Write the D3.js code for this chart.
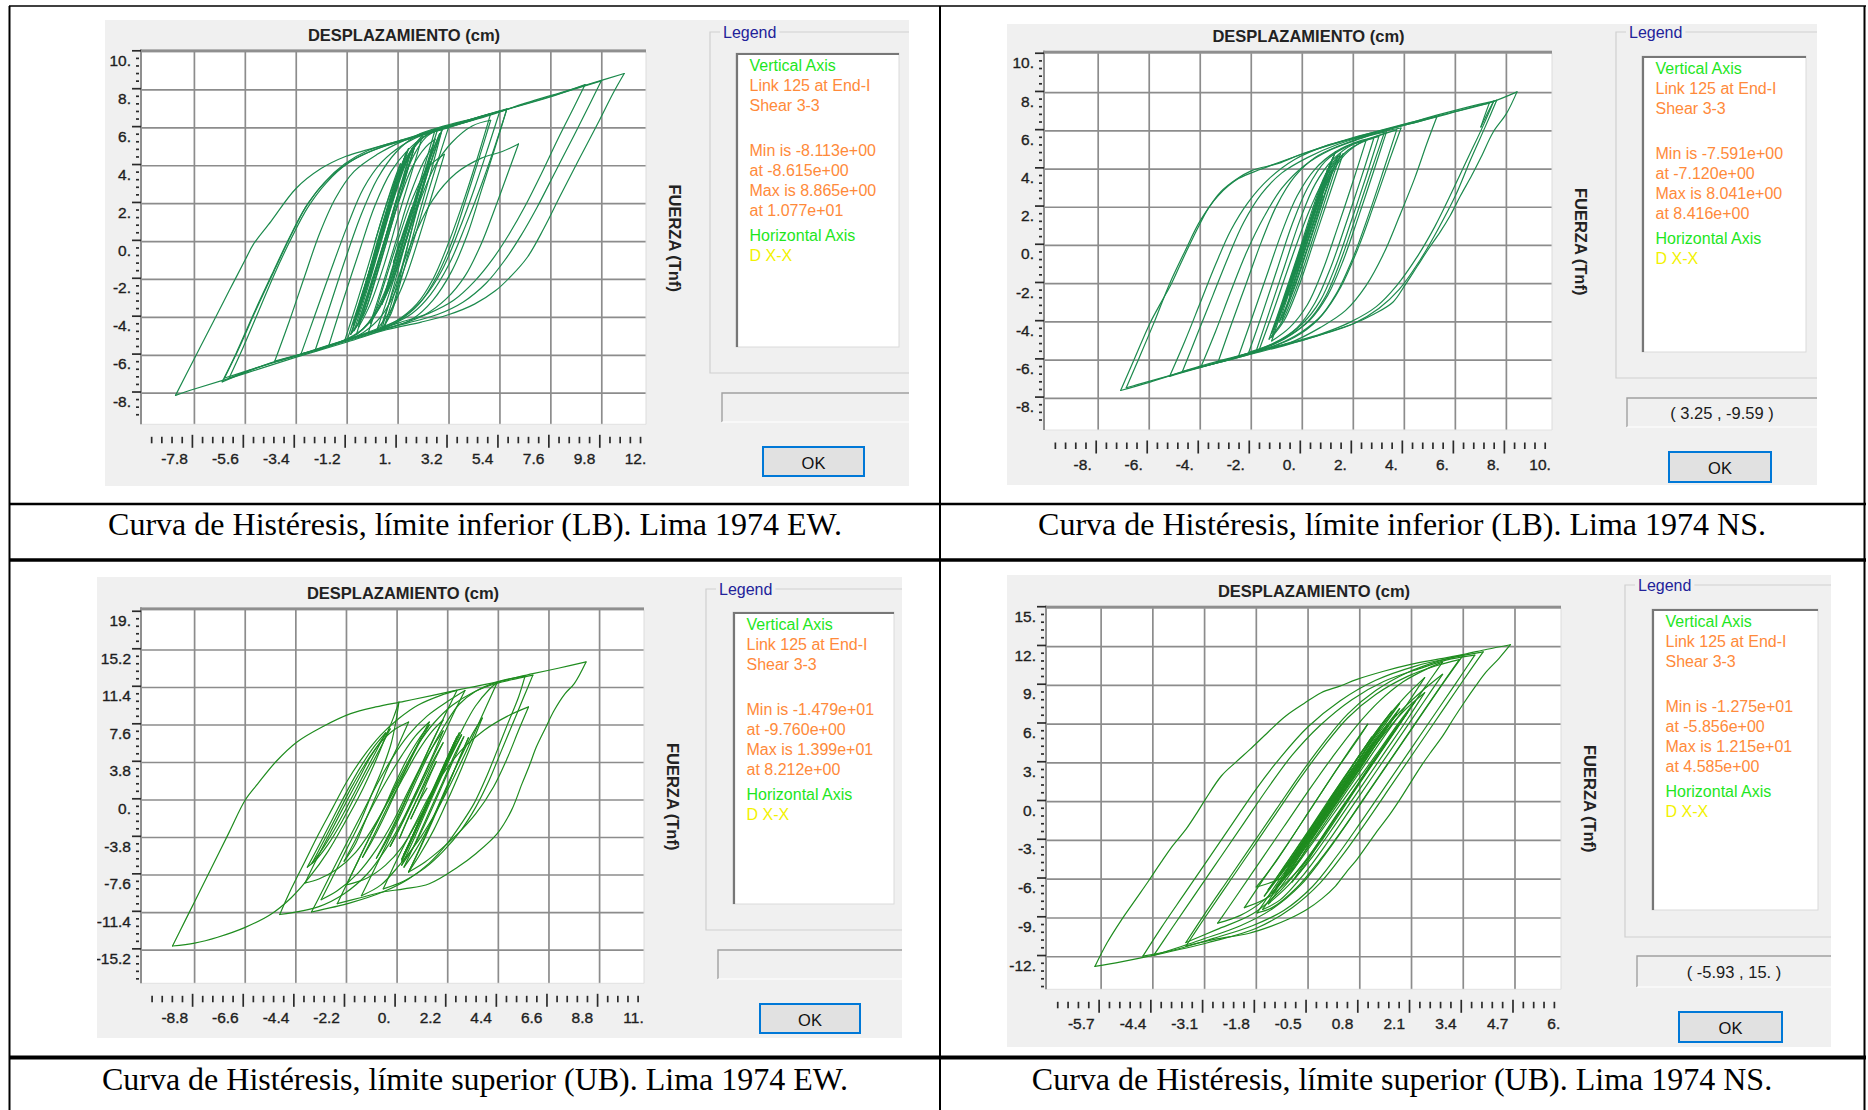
<!DOCTYPE html>
<html>
<head>
<meta charset="utf-8">
<script src="https://cdn.jsdelivr.net/npm/d3@7"></script>
<style>
  html, body { margin: 0; padding: 0; background: #ffffff; }
  svg { display: block; }
</style>
</head>
<body>
<svg id="fig" width="1868" height="1110"></svg>
<script>
// ---------------------------------------------------------------
// Hysteresis records: [displacement (cm), shear force (Tnf)]
// ---------------------------------------------------------------
const lbEwPath = [
[0,0],[0.45,1.8],[0.85,3.3],[1.1,4.1],
[0.65,2.3],[0.1,0.0],[-0.35,-2.0],[-0.65,-3.3],
[-0.1,-1.0],[0.5,1.5],[0.95,3.4],[1.3,4.5],
[0.8,2.4],[0.15,-0.3],[-0.45,-2.7],[-0.85,-4.0],
[-0.25,-1.6],[0.4,1.1],[1.0,3.5],[1.45,4.9],
[0.95,2.9],[0.25,0.1],[-0.4,-2.6],[-0.95,-4.4],
[-0.4,-2.2],[0.3,0.6],[0.9,3.0],[1.35,4.7],
[0.9,2.8],[0.3,0.4],[-0.3,-2.1],[-0.75,-3.9],
[-0.2,-1.7],[0.5,1.2],[1.2,3.9],[1.8,5.2],[2.5,5.8],[3.2,6.1],
[2.7,4.2],[2.1,1.8],[1.5,-0.6],[0.9,-2.6],[0.3,-3.9],[-0.5,-4.8],[-1.2,-5.2],
[-0.7,-3.3],[-0.1,-1.0],[0.5,1.3],[1.0,3.2],[1.5,4.6],[2.1,5.5],[2.6,5.9],
[2.1,3.8],[1.5,1.3],[0.9,-1.1],[0.3,-3.0],[-0.3,-4.3],[-0.8,-4.9],[-1.5,-5.3],[-2.6,-5.8],
[-2.0,-3.6],[-1.3,-1.0],[-0.6,1.4],[0.1,3.3],[0.9,4.7],[1.8,5.6],[3.0,6.1],[4.3,6.5],[5.7,7.0],
[5.2,5.0],[4.6,2.7],[4.0,0.4],[3.3,-1.6],[2.5,-3.1],[1.6,-4.1],[0.5,-4.6],[-0.8,-5.1],[-2.2,-5.6],[-3.4,-6.0],[-4.33,-6.31],
[-3.7,-4.2],[-3.0,-1.7],[-2.4,0.4],[-1.7,2.3],[-0.9,3.7],[0.1,4.6],[1.2,5.3],[2.5,5.9],[3.8,6.3],[5.0,6.75],
[4.5,4.7],[3.9,2.4],[3.2,0.0],[2.5,-2.0],[1.8,-3.3],[0.9,-4.2],[-0.2,-4.8],[-1.2,-5.2],[-2.0,-5.5],
[-1.4,-3.2],[-0.7,-0.6],[0.0,1.9],[0.7,3.7],[1.4,4.8],[2.2,5.6],[2.9,5.9],
[2.3,3.7],[1.6,1.0],[0.9,-1.6],[0.2,-3.5],[-0.5,-4.6],[-1.5,-5.3],[-3.0,-5.9],[-4.5,-6.4],[-5.6,-6.9],[-6.6,-7.4],
[-6.0,-5.9],[-5.2,-3.7],[-4.4,-1.6],[-3.7,0.2],[-3.0,1.8],[-2.2,3.1],[-1.3,4.1],[-0.3,4.8],[1.0,5.3],[2.5,5.85],[4.0,6.4],[5.4,6.9],
[4.9,5.0],[4.3,2.8],[3.6,0.5],[2.9,-1.5],[2.1,-3.0],[1.2,-4.0],[0.1,-4.6],[-1.3,-5.2],[-2.8,-5.8],[-4.2,-6.3],[-5.6,-6.85],[-6.5,-7.2],
[-5.9,-5.7],[-5.1,-3.5],[-4.3,-1.4],[-3.6,0.4],[-2.9,2.0],[-2.1,3.2],[-1.1,4.2],[0.1,4.9],[1.6,5.45],[3.2,6.05],[4.8,6.6],[6.5,7.3],[8.0,7.85],[9.5,8.4],[10.77,8.865],
[10.3,7.85],[9.7,6.4],[8.8,4.3],[8.0,2.4],[7.3,0.7],[6.6,-0.8],[5.9,-1.8],[5.2,-2.6],[4.3,-3.3],[3.2,-3.85],[2.0,-4.25],[0.5,-4.65],[-1.2,-5.3],[-3.4,-6.1],[-5.6,-6.95],[-7.8,-7.78],[-8.615,-8.113],
[-7.8,-6.17],[-7.0,-4.27],[-6.3,-2.6],[-5.6,-0.95],[-5.26,-0.16],[-4.49,1.07],[-3.41,2.8],[-2.33,3.85],[-1.25,4.5],[-0.3,4.85],[1.0,5.3],[3.15,6.0],[5.35,6.85],[7.57,7.65],[9.78,8.48],
[9.3,7.3],[8.6,5.6],[7.8,3.7],[7.0,1.8],[6.3,0.3],[5.6,-1.0],[4.8,-2.2],[3.8,-3.2],[2.7,-3.85],[1.4,-4.3],[0.0,-4.75],[-1.8,-5.4],[-3.6,-6.1],[-5.2,-6.7],[-6.3,-7.2],
[-5.7,-5.6],[-5.0,-3.6],[-4.3,-1.6],[-3.6,0.2],[-2.9,1.8],[-2.1,3.1],[-1.2,4.1],[-0.1,4.8],[1.5,5.45],[3.5,6.15],[5.5,6.9],[7.5,7.6],[9.08,8.28],
[8.6,7.1],[7.9,5.4],[7.2,3.6],[6.5,1.9],[5.8,0.4],[5.1,-0.9],[4.3,-2.1],[3.4,-3.1],[2.3,-3.8],[1.0,-4.3],[-0.5,-4.9],[-2.0,-5.5],[-3.2,-5.95],
[-2.6,-3.9],[-1.9,-1.5],[-1.2,0.8],[-0.5,2.8],[0.3,4.2],[1.2,5.1],[2.4,5.8],[3.6,6.25],[4.6,6.6],[5.69,6.96],
[5.2,5.1],[4.6,3.0],[3.9,0.8],[3.2,-1.2],[2.4,-2.8],[1.6,-3.8],[0.7,-4.4],[-0.3,-4.85],
[0.2,-3.0],[0.9,-0.3],[1.6,2.2],[2.3,3.9],[3.0,4.6],
[2.5,2.6],[1.9,0.2],[1.3,-2.0],[0.7,-3.6],[0.1,-4.6],
[0.6,-2.8],[1.2,-0.5],[1.9,2.0],[2.6,4.0],[3.3,5.2],[4.2,6.1],[5.0,6.4],
[4.5,4.4],[3.9,2.1],[3.3,-0.1],[2.6,-2.0],[1.9,-3.3],[1.0,-4.2],[0.2,-4.7],
[0.8,-2.6],[1.6,0.0],[2.5,2.2],[3.5,3.6],[4.6,4.4],[5.5,4.75],[6.2,5.15],
[5.8,3.8],[5.2,1.8],[4.6,-0.1],[3.9,-1.8],[3.1,-3.0],[2.1,-3.9],[1.0,-4.4],[-0.2,-4.8],[-1.3,-5.2],
[-0.8,-3.3],[-0.2,-0.9],[0.4,1.6],[1.0,3.6],[1.6,4.9],[2.07,5.64],
[1.6,3.7],[1.0,1.3],[0.4,-1.2],[-0.2,-3.3],[-0.7,-4.5],
[-0.2,-2.5],[0.4,0.0],[1.0,2.5],[1.5,4.2],[1.76,5.2],
[1.3,3.3],[0.7,0.8],[0.1,-1.7],[-0.4,-3.6],[-0.9,-4.7],
[-0.4,-2.8],[0.2,-0.3],[0.8,2.2],[1.3,4.0],[1.7,5.0],
[1.2,2.9],[0.6,0.4],[0.0,-2.0],[-0.5,-3.9],[-1.0,-4.8],
[-0.5,-3.0],[0.1,-0.6],[0.7,1.9],[1.2,3.8],[1.6,4.9],
[1.1,2.8],[0.5,0.2],[-0.1,-2.2],[-0.6,-4.0],[-1.05,-4.9],
[-0.6,-3.2],[0.0,-0.8],[0.6,1.7],[1.1,3.5],[1.5,4.6],
[1.0,2.5],[0.4,0.0],[-0.2,-2.4],[-0.7,-4.2],
[-0.2,-2.3],[0.5,0.4],[1.1,2.8],[1.7,4.6],[2.2,5.5],[2.7,5.9],
[2.2,3.9],[1.6,1.5],[1.0,-0.9],[0.4,-2.9],[-0.2,-4.2],[-0.8,-4.9],
[-0.3,-2.9],[0.3,-0.5],[1.0,2.0],[1.6,3.9],[2.2,5.0],[2.6,5.4],
[2.2,3.6],[1.7,1.2],[1.2,-1.3],[0.8,-3.3],[0.4,-4.5],
[0.9,-2.5],[1.5,0.2],[2.1,2.9],[2.6,4.9],[2.9,5.9],
[2.4,3.6],[1.8,1.0],[1.2,-1.7],[0.7,-3.8],[0.3,-4.6],
[0.8,-2.4],[1.4,0.3],[2.0,3.0],[2.5,4.8],[2.8,5.7],
[2.1,3.4],[1.5,1.1],[0.9,-1.3],[0.3,-3.2],[-0.2,-4.3],
[0.3,-2.4],[0.9,0.0],[1.5,2.4],[2.1,4.2],[2.5,5.0],
[2.0,3.0],[1.4,0.7],[0.8,-1.7],[0.3,-3.3],
[0.8,-1.3],[1.4,1.0],[2.0,3.1],[2.4,4.2],
[1.9,2.3],[1.3,0.0],[0.7,-2.2],[0.3,-3.3],
[0.7,-1.6],[1.2,0.4],[1.6,1.8],[1.2,0.3],[0.8,-1.1],[1.05,0.0]
];

const lbNsPath = [
[0,0],[0.4,1.6],[0.8,3.2],[1.0,4.0],
[0.5,2.0],[-0.1,-0.4],[-0.6,-2.4],[-0.9,-3.6],
[-0.4,-1.6],[0.2,0.8],[0.7,2.9],[1.1,4.3],
[0.6,2.3],[0.0,-0.2],[-0.6,-2.6],[-1.0,-4.0],
[-0.5,-2.0],[0.1,0.5],[0.7,2.8],[1.2,4.6],
[0.7,2.6],[0.0,-0.3],[-0.6,-2.7],[-1.1,-4.3],
[-0.5,-1.9],[0.2,0.9],[0.8,3.3],[1.3,4.9],
[0.7,2.6],[0.0,-0.4],[-0.7,-3.0],[-1.2,-4.6],
[-0.6,-2.4],[0.1,0.3],[0.8,2.8],[1.5,4.5],[2.3,5.4],[3.2,5.85],
[2.7,3.9],[2.1,1.5],[1.5,-0.8],[0.9,-2.7],[0.2,-4.0],[-0.7,-4.9],[-1.7,-5.5],
[-1.1,-3.3],[-0.4,-0.6],[0.3,1.9],[1.0,3.8],[1.8,5.0],[2.7,5.6],[3.7,6.05],
[3.2,4.0],[2.6,1.6],[2.0,-0.6],[1.3,-2.6],[0.6,-3.9],[-0.3,-4.8],[-1.4,-5.4],[-2.6,-5.9],[-3.97,-6.35],
[-3.4,-4.5],[-2.8,-2.4],[-2.2,-0.4],[-1.5,1.5],[-0.8,3.0],[0.1,4.2],[1.1,5.0],[2.3,5.6],[3.6,6.15],[4.6,6.5],[5.28,6.75],
[4.9,5.4],[4.4,3.5],[3.8,1.5],[3.2,-0.4],[2.5,-2.1],[1.7,-3.4],[0.7,-4.3],[-0.5,-5.1],[-1.9,-5.6],[-3.2,-6.1],[-4.3,-6.5],[-5.2,-6.85],
[-4.6,-5.0],[-4.0,-3.0],[-3.4,-1.0],[-2.8,0.8],[-2.1,2.3],[-1.3,3.5],[-0.3,4.5],[0.9,5.2],[2.3,5.7],[3.9,6.3],[5.5,6.9],[6.8,7.35],[7.62,7.6],
[7.2,6.3],[6.6,4.5],[6.0,2.6],[5.3,0.8],[4.6,-0.8],[3.8,-2.3],[3.0,-3.3],[2.0,-4.1],[0.8,-4.65],[-0.6,-5.2],[-2.2,-5.75],[-3.8,-6.3],[-5.3,-6.85],[-6.5,-7.3],[-6.9,-7.45],
[-6.4,-5.9],[-5.8,-4.0],[-5.2,-2.0],[-4.6,-0.3],[-4.0,1.3],[-3.3,2.6],[-2.5,3.5],[-1.6,4.0],[-0.6,4.5],[0.6,5.05],[2.2,5.7],[4.0,6.35],[5.8,6.95],[7.3,7.45],[8.416,8.041],
[8.0,6.9],[7.48,5.93],[7.0,4.6],[6.64,3.66],[6.2,2.6],[5.8,1.57],[5.4,0.7],[4.95,-0.17],[4.5,-1.1],[4.02,-2.09],[3.55,-2.97],[2.8,-3.6],[2.0,-4.1],[1.0,-4.55],[0.0,-4.97],[-1.96,-5.6],[-3.97,-6.3],[-5.97,-7.15],[-7.12,-7.591],
[-6.6,-6.0],[-5.97,-4.07],[-5.5,-2.9],[-5.13,-2.0],[-4.75,-0.9],[-4.43,0.0],[-4.1,0.9],[-3.7,1.9],[-3.2,2.8],[-2.6,3.45],[-1.96,3.93],[-0.93,4.3],[0.0,4.8],[2.0,5.65],[4.0,6.3],[5.6,6.85],[6.8,7.3],[7.33,7.45],
[7.1,6.6],[7.0,6.2],[7.25,6.9],[7.5,7.55],
[7.1,6.3],[6.5,4.6],[5.9,2.9],[5.2,1.0],[4.5,-0.6],[3.7,-2.1],[2.9,-3.2],[1.9,-4.0],[0.8,-4.6],[-0.5,-5.1],[-2.0,-5.6],[-3.5,-6.2],[-4.7,-6.6],
[-4.1,-4.6],[-3.5,-2.6],[-2.9,-0.6],[-2.3,1.2],[-1.6,2.7],[-0.8,3.8],[0.2,4.6],[1.4,5.3],[2.8,5.85],[3.87,6.15],
[3.4,4.4],[2.8,2.1],[2.2,-0.1],[1.5,-2.2],[0.8,-3.6],[0.0,-4.5],[-1.0,-5.2],[-2.2,-5.7],[-3.3,-6.1],
[-2.8,-4.2],[-2.2,-2.0],[-1.6,0.2],[-1.0,2.1],[-0.3,3.6],[0.5,4.6],[1.5,5.25],[2.6,5.75],[3.3,5.95],
[2.8,3.9],[2.2,1.5],[1.6,-0.8],[1.0,-2.6],[0.3,-3.9],[-0.5,-4.7],[-1.6,-5.4],[-2.5,-5.8],
[-2.0,-3.9],[-1.4,-1.6],[-0.8,0.7],[-0.2,2.6],[0.5,4.0],[1.3,4.9],[2.2,5.45],[3.0,5.7],
[2.5,3.6],[1.9,1.2],[1.3,-1.1],[0.7,-2.9],[0.0,-4.1],[-0.9,-5.0],[-1.8,-5.5],
[-1.3,-3.5],[-0.7,-1.1],[-0.1,1.3],[0.5,3.2],[1.2,4.5],[2.0,5.3],[2.8,5.6],
[2.3,3.5],[1.7,1.1],[1.1,-1.2],[0.5,-3.0],[-0.2,-4.3],[-1.1,-5.1],[-2.1,-5.6],
[-1.6,-3.7],[-1.0,-1.3],[-0.4,1.1],[0.2,3.0],[0.9,4.4],[1.7,5.15],[2.5,5.5],
[2.0,3.4],[1.4,1.0],[0.8,-1.3],[0.2,-3.1],[-0.5,-4.3],[-1.2,-5.0],
[-0.7,-3.0],[-0.1,-0.6],[0.5,1.8],[1.0,3.6],[1.6,4.8],
[1.1,2.8],[0.5,0.4],[-0.1,-2.0],[-0.7,-3.9],[-1.2,-4.8],
[-0.7,-2.9],[-0.1,-0.5],[0.5,2.0],[1.0,3.8],[1.5,4.8],
[1.0,2.8],[0.4,0.3],[-0.2,-2.1],[-0.8,-4.0],[-1.3,-4.9],
[-0.8,-3.0],[-0.2,-0.6],[0.4,1.9],[0.9,3.7],[1.4,4.7],
[0.9,2.7],[0.3,0.2],[-0.3,-2.2],[-0.8,-3.9],
[-0.3,-1.9],[0.3,0.6],[0.8,2.7],[1.2,4.0],
[0.7,2.0],[0.1,-0.5],[-0.5,-2.8],[-0.9,-4.0],
[-0.4,-2.0],[0.2,0.5],[0.7,2.5],[1.1,3.9],
[0.6,1.9],[0.0,-0.6],[-0.5,-2.6],
[0.0,-0.6],[0.5,1.4],[0.8,2.6],
[0.3,0.6],[-0.2,-1.4],[0.1,-0.2]
];

const ubEwPath = [
[1.4,0],[1.8,2.2],[2.2,4.3],[2.5,5.9],
[2.1,3.7],[1.5,0.6],[0.9,-2.5],[0.5,-4.6],
[0.9,-2.4],[1.5,0.8],[2.1,3.9],[2.6,6.4],
[2.1,3.8],[1.4,0.2],[0.8,-3.0],[0.3,-5.5],
[0.8,-3.0],[1.5,0.6],[2.1,3.8],[2.7,6.8],
[2.2,4.2],[1.5,0.5],[0.8,-3.1],[0.2,-6.0],
[0.7,-3.5],[1.4,0.1],[2.0,3.2],[2.5,5.6],
[2.0,3.0],[1.3,-0.6],[0.7,-3.7],[0.2,-6.2],
[0.8,-3.2],[1.5,0.4],[2.2,4.0],[2.8,7.0],[3.4,9.5],[4.0,11.2],[4.35,11.9],
[3.9,9.6],[3.4,7.0],[2.9,4.4],[2.3,1.5],[1.6,-1.6],[0.9,-4.2],[0.1,-6.6],[-0.7,-8.6],[-1.55,-9.7],
[-1.0,-7.1],[-0.4,-4.2],[0.3,-0.8],[0.9,2.3],[1.5,5.2],[2.1,7.7],[2.7,9.7],[3.4,11.0],[4.4,12.0],[5.56,12.55],
[5.28,10.44],[4.81,7.74],[4.35,5.03],[3.88,2.33],[3.34,-0.37],[2.79,-2.4],[2.17,-4.43],[1.4,-6.4],[0.5,-8.0],[-0.6,-9.3],[-2.0,-10.4],[-3.72,-11.35],
[-3.2,-9.0],[-2.6,-6.2],[-2.0,-3.5],[-1.4,-0.8],[-0.8,1.9],[-0.2,4.3],[0.5,6.6],[1.3,8.5],[2.2,10.0],[2.95,11.1],
[2.5,9.0],[2.0,6.5],[1.4,3.6],[0.8,0.7],[0.2,-2.2],[-0.5,-5.0],[-1.3,-7.5],[-2.3,-9.5],[-3.4,-10.8],[-5.1,-11.6],
[-4.6,-9.0],[-4.0,-6.2],[-3.4,-3.4],[-2.8,-0.8],[-2.2,1.8],[-1.5,4.3],[-0.7,6.6],[0.1,8.3],[0.9,9.6],[1.9,10.6],[2.6,11.1],
[2.1,8.7],[1.6,6.2],[1.0,3.3],[0.4,0.5],[-0.2,-2.3],[-0.9,-5.0],[-1.7,-7.4],[-2.6,-9.2],[-3.3,-10.1],
[-2.8,-7.8],[-2.2,-5.0],[-1.6,-2.2],[-1.1,0.6],[-0.6,3.4],[-0.25,5.8],[-0.05,8.0],[0.08,9.93],
[-0.15,8.4],[-0.5,6.4],[-1.0,3.6],[-1.6,0.6],[-2.3,-2.4],[-3.0,-5.2],[-3.8,-7.8],[-4.6,-9.9],[-5.5,-11.6],[-6.6,-12.9],[-7.8,-13.9],[-8.8,-14.5],[-9.76,-14.79],
[-9.2,-12.17],[-8.8,-10.3],[-8.07,-6.88],[-7.29,-3.23],[-6.6,0.0],[-6.05,1.66],[-5.28,3.85],[-4.35,5.88],[-3.26,7.4],[-2.02,8.75],[-0.93,9.43],[0.3,10.0],[1.55,10.6],[2.95,11.3],[4.42,12.0],[5.9,12.8],[7.0,13.35],[8.212,13.99],
[7.7,11.8],[7.3,10.78],[6.83,9.09],[6.45,7.3],[6.05,5.37],[5.75,3.5],[5.43,1.66],[4.97,-1.05],[4.35,-3.41],[3.42,-5.44],[2.64,-6.79],[1.4,-8.48],[0.3,-9.0],[-0.62,-9.32],[-1.6,-9.9],[-2.6,-10.5],
[-2.1,-8.1],[-1.5,-5.2],[-0.9,-2.4],[-0.3,0.4],[0.3,3.1],[0.9,5.6],[1.6,7.8],[2.4,9.6],[3.3,10.9],[4.3,11.8],[5.2,12.3],[5.9,12.65],
[5.5,10.4],[5.0,7.6],[4.5,4.8],[4.0,2.0],[3.4,-0.8],[2.8,-3.0],[2.0,-5.2],[1.2,-6.9],[0.3,-8.2],[-0.6,-9.0],
[0.0,-6.0],[0.7,-2.8],[1.4,0.4],[2.1,3.0],[2.9,5.3],[3.8,7.1],[4.8,8.5],[5.71,9.43],
[5.28,7.06],[4.81,4.36],[4.19,1.32],[3.42,-1.39],[2.64,-3.41],[1.9,-5.0],[1.2,-6.3],[0.5,-7.3],
[1.0,-4.8],[1.6,-1.6],[2.2,1.6],[2.8,4.5],[3.3,6.8],[3.7,8.3],
[3.3,6.0],[2.8,3.2],[2.2,0.0],[1.6,-3.0],[1.0,-5.5],[0.5,-7.3],
[1.0,-4.9],[1.6,-1.8],[2.2,1.4],[2.7,4.2],[3.1,6.3],
[2.6,3.6],[2.0,0.4],[1.4,-2.6],[0.8,-5.1],[0.3,-6.8],
[0.8,-4.3],[1.4,-1.2],[2.0,1.9],[2.5,4.6],[2.9,6.4],
[2.4,3.8],[1.8,0.6],[1.2,-2.5],[0.7,-4.8],[0.2,-6.6],
[0.7,-4.1],[1.3,-0.9],[1.9,2.2],[2.4,4.8],[2.8,6.6],
[2.2,3.8],[1.5,0.5],[0.8,-2.5],[0.2,-4.8],[-0.5,-6.6],[-1.3,-7.9],[-2.2,-8.6],
[-1.7,-6.2],[-1.2,-3.8],[-0.6,-1.0],[-0.1,1.6],[0.4,4.0],[0.9,6.0],[1.4,7.6],
[0.9,5.5],[0.3,2.8],[-0.4,-0.2],[-1.1,-3.0],[-1.8,-5.3],[-2.6,-7.0],[-3.4,-8.0],[-4.0,-8.4],
[-3.5,-6.0],[-2.9,-3.3],[-2.3,-0.6],[-1.7,2.0],[-1.2,4.2],[-0.7,6.0],[-0.3,7.2],
[-0.7,5.4],[-1.2,3.2],[-1.8,0.5],[-2.4,-2.2],[-3.0,-4.5],[-3.5,-6.0],[-3.9,-6.8],
[-3.4,-4.6],[-2.8,-1.9],[-2.2,0.8],[-1.6,3.3],[-1.0,5.4],[-0.5,6.8],
[-0.9,5.0],[-1.4,2.8],[-2.0,0.1],[-2.6,-2.5],[-3.2,-4.8],[-3.7,-6.4],
[-3.2,-4.2],[-2.6,-1.5],[-2.0,1.2],[-1.4,3.6],[-0.8,5.6],[-0.2,7.0],[0.5,7.9],
[0.1,5.8],[-0.4,3.3],[-0.9,0.5],[-1.4,-2.2],[-1.8,-4.4],[-2.3,-6.2],
[-1.8,-4.0],[-1.2,-1.2],[-0.5,1.8],[0.2,4.5],[0.8,6.5],[1.4,7.9],
[0.9,5.7],[0.4,3.2],[-0.1,0.6],[-0.6,-1.9],[-1.1,-4.2],[-1.5,-5.8],
[-1.0,-3.5],[-0.4,-0.6],[0.3,2.4],[0.9,4.9],[1.5,6.9],[2.0,8.1],
[1.5,5.8],[1.0,3.2],[0.5,0.6],[0.0,-2.0],[-0.5,-4.3],[-0.9,-5.9],
[-0.3,-3.2],[0.3,-0.3],[0.9,2.7],[1.5,5.2],[2.0,7.0],
[1.6,4.8],[1.1,2.2],[0.6,-0.4],[0.1,-2.9],[-0.3,-4.7],
[0.3,-2.0],[0.9,0.9],[1.5,3.7],[2.0,5.8],
[1.5,3.4],[1.0,0.8],[0.5,-1.8],[0.1,-3.9],
[0.6,-1.2],[1.2,1.6],[1.7,3.9],
[1.3,1.8],[0.9,-0.4],[0.6,-1.9],
[1.0,0.0],[1.3,1.2]
];

const ubNsPath = [
[0,0],[0.4,1.8],[0.8,3.6],[1.1,5.0],
[0.7,3.2],[0.2,0.8],[-0.3,-1.5],[-0.7,-3.4],[-1.0,-4.8],
[-0.6,-3.0],[-0.1,-0.7],[0.4,1.6],[0.9,3.8],[1.3,5.6],
[0.9,3.8],[0.3,1.1],[-0.2,-1.3],[-0.7,-3.5],[-1.2,-5.6],
[-0.7,-3.4],[-0.2,-1.0],[0.3,1.3],[0.8,3.6],[1.3,5.8],[1.6,7.0],
[1.1,4.8],[0.6,2.4],[0.0,-0.3],[-0.5,-2.7],[-1.0,-4.9],[-1.5,-6.8],
[-1.0,-4.6],[-0.4,-1.9],[0.2,0.7],[0.8,3.3],[1.3,5.6],[1.8,7.6],
[1.3,5.4],[0.7,2.7],[0.1,0.0],[-0.5,-2.7],[-1.1,-5.3],[-1.6,-7.3],
[-1.1,-5.0],[-0.5,-2.3],[0.1,0.5],[0.7,3.2],[1.3,5.8],[1.9,8.0],[2.43,9.6],
[2.0,7.6],[1.4,5.0],[0.8,2.3],[0.2,-0.4],[-0.4,-3.1],[-1.0,-5.6],[-1.6,-7.6],[-2.2,-8.8],[-2.77,-9.4],
[-2.3,-7.3],[-1.7,-4.6],[-1.1,-1.9],[-0.5,0.8],[0.1,3.4],[0.7,5.8],[1.3,7.8],[1.9,9.3],[2.5,10.3],[2.88,10.8],
[2.4,8.7],[1.8,6.0],[1.2,3.3],[0.6,0.6],[0.0,-2.1],[-0.6,-4.7],[-1.2,-6.9],[-1.9,-8.7],[-2.8,-9.9],[-3.57,-10.9],
[-3.1,-8.7],[-2.5,-6.0],[-1.9,-3.3],[-1.3,-0.6],[-0.7,2.1],[-0.1,4.6],[0.5,6.8],[1.2,8.6],[2.0,10.0],[2.8,10.9],[3.4,11.35],
[2.9,9.2],[2.3,6.5],[1.7,3.8],[1.1,1.1],[0.5,-1.6],[-0.1,-4.2],[-0.7,-6.5],[-1.4,-8.3],[-2.2,-9.6],[-3.2,-10.7],[-4.38,-11.9],
[-3.9,-9.7],[-3.3,-7.0],[-2.7,-4.3],[-2.1,-1.6],[-1.5,1.1],[-0.9,3.6],[-0.2,5.9],[0.6,7.9],[1.4,9.3],[2.3,10.3],[3.1,11.05],[3.69,11.35],
[3.2,9.1],[2.6,6.4],[2.0,3.7],[1.4,1.0],[0.8,-1.7],[0.2,-4.3],[-0.4,-6.6],[-1.1,-8.4],[-1.9,-9.6],[-2.9,-10.6],[-3.9,-11.5],[-4.65,-11.95],
[-4.2,-9.8],[-3.6,-7.1],[-3.0,-4.4],[-2.4,-1.7],[-1.8,1.0],[-1.2,3.4],[-0.5,5.8],[0.3,7.8],[1.2,9.4],[2.2,10.5],[3.2,11.2],[3.9,11.6],
[3.4,9.4],[2.8,6.7],[2.2,4.0],[1.6,1.3],[1.0,-1.4],[0.4,-4.0],[-0.2,-6.3],[-0.9,-8.2],[-1.8,-9.8],[-3.0,-10.9],[-4.4,-11.9],[-5.2,-12.4],[-5.856,-12.75],
[-5.55,-10.92],[-5.2,-9.2],[-4.83,-7.56],[-4.5,-6.1],[-4.2,-4.72],[-3.9,-3.4],[-3.57,-2.14],[-3.3,-0.9],[-3.08,0.18],[-2.68,1.99],[-2.3,3.1],[-1.96,4.05],[-1.5,5.4],[-1.06,6.63],[-0.6,7.6],[-0.17,8.44],[0.3,8.95],[0.73,9.47],[1.4,10.1],[2.08,10.63],[2.8,11.05],[3.42,11.41],[4.0,11.8],[4.585,12.15],
[4.3,11.1],[3.96,9.99],[3.7,8.9],[3.42,7.66],[3.15,6.4],[2.88,5.08],[2.6,3.9],[2.34,2.76],[2.08,1.5],[1.81,0.18],[1.55,-1.0],[1.27,-2.14],[1.0,-3.3],[0.73,-4.46],[0.45,-5.5],[0.19,-6.53],[-0.15,-7.5],[-0.53,-8.34],[-1.0,-9.1],[-1.42,-9.63],[-2.0,-10.2],[-2.86,-10.66],[-3.57,-11.17],
[-3.1,-9.0],[-2.5,-6.3],[-1.9,-3.6],[-1.3,-0.9],[-0.7,1.8],[-0.1,4.3],[0.5,6.5],[1.2,8.3],[2.0,9.7],[2.7,10.5],[3.3,11.0],
[2.8,8.8],[2.2,6.1],[1.6,3.4],[1.0,0.7],[0.4,-2.0],[-0.2,-4.5],[-0.8,-6.7],[-1.4,-8.2],[-1.78,-8.6],
[-1.3,-6.4],[-0.7,-3.7],[-0.1,-1.0],[0.5,1.7],[1.1,4.3],[1.7,6.6],[2.3,8.4],[2.88,9.86],
[2.4,7.7],[1.8,5.0],[1.2,2.3],[0.6,-0.4],[0.0,-3.1],[-0.6,-5.6],[-1.2,-7.6],[-1.64,-8.34],
[-1.1,-5.9],[-0.5,-3.2],[0.1,-0.5],[0.7,2.2],[1.3,4.8],[1.9,7.0],[2.43,8.44],
[2.0,6.4],[1.4,3.7],[0.8,1.0],[0.2,-1.7],[-0.4,-4.3],[-1.0,-6.5],[-1.5,-7.9],
[-0.9,-5.4],[-0.2,-2.4],[0.5,0.6],[1.2,3.6],[1.8,6.2],[2.2,7.8],
[1.7,5.6],[1.1,3.0],[0.5,0.2],[-0.1,-2.6],[-0.6,-5.0],[-0.9,-6.2],
[-0.4,-3.9],[0.2,-1.1],[0.9,2.0],[1.5,4.8],[2.0,6.9],
[1.5,4.6],[0.9,1.9],[0.3,-0.9],[-0.3,-3.6],[-0.9,-5.8],[-1.5,-7.4],[-2.1,-8.2],
[-1.6,-5.9],[-1.0,-3.2],[-0.4,-0.4],[0.2,2.4],[0.7,4.6],[1.0,6.0],
[0.5,3.8],[-0.1,1.0],[-0.7,-1.8],[-1.3,-4.6],[-1.8,-6.6],
[-1.0,-5.6],[-0.4,-2.9],[0.2,-0.2],[0.8,2.5],[1.3,4.9],[1.72,6.8],
[1.2,4.4],[0.6,1.7],[0.0,-1.0],[-0.6,-3.7],[-1.1,-6.0],[-1.4,-7.1],
[-0.9,-4.8],[-0.3,-2.1],[0.3,0.6],[0.9,3.3],[1.4,5.6],[1.8,7.2],
[1.3,4.9],[0.7,2.2],[0.1,-0.5],[-0.5,-3.2],[-1.0,-5.4],[-1.3,-6.6],
[-0.8,-4.3],[-0.2,-1.6],[0.4,1.1],[1.0,3.8],[1.4,5.6],
[0.9,3.3],[0.3,0.6],[-0.3,-2.1],[-0.8,-4.4],[-1.1,-5.6],
[-0.6,-3.3],[0.0,-0.6],[0.6,2.1],[1.1,4.4],[1.5,6.0],
[1.0,3.7],[0.4,1.0],[-0.2,-1.7],[-0.7,-3.9],[-1.0,-5.0],
[-0.5,-2.7],[0.1,0.0],[0.7,2.7],[1.1,4.4],
[0.6,2.1],[0.0,-0.6],[-0.5,-2.9],[-0.8,-4.1],
[-0.3,-1.8],[0.3,0.9],[0.8,3.0],
[0.3,0.8],[-0.2,-1.4],[-0.5,-2.7],
[0.0,-0.4],[0.3,0.8]
];

// axis tick values and their printed labels
const lbEwXTicks  = [-7.8, -5.6, -3.4, -1.2, 1.0, 3.2, 5.4, 7.6, 9.8, 12.0];
const lbEwXLabels = ["-7.8", "-5.6", "-3.4", "-1.2", "1.", "3.2", "5.4", "7.6", "9.8", "12."];
const lbEwYTicks  = [10, 8, 6, 4, 2, 0, -2, -4, -6, -8];
const lbEwYLabels = ["10.", "8.", "6.", "4.", "2.", "0.", "-2.", "-4.", "-6.", "-8."];

const lbNsXTicks  = [-8, -6, -4, -2, 0, 2, 4, 6, 8, 10];
const lbNsXLabels = ["-8.", "-6.", "-4.", "-2.", "0.", "2.", "4.", "6.", "8.", "10."];
const lbNsYTicks  = [10, 8, 6, 4, 2, 0, -2, -4, -6, -8];
const lbNsYLabels = ["10.", "8.", "6.", "4.", "2.", "0.", "-2.", "-4.", "-6.", "-8."];

const ubEwXTicks  = [-8.8, -6.6, -4.4, -2.2, 0, 2.2, 4.4, 6.6, 8.8, 11.0];
const ubEwXLabels = ["-8.8", "-6.6", "-4.4", "-2.2", "0.", "2.2", "4.4", "6.6", "8.8", "11."];
const ubEwYTicks  = [19.0, 15.2, 11.4, 7.6, 3.8, 0, -3.8, -7.6, -11.4, -15.2];
const ubEwYLabels = ["19.", "15.2", "11.4", "7.6", "3.8", "0.", "-3.8", "-7.6", "-11.4", "-15.2"];

const ubNsXTicks  = [-5.7, -4.4, -3.1, -1.8, -0.5, 0.8, 2.1, 3.4, 4.7, 6.0];
const ubNsXLabels = ["-5.7", "-4.4", "-3.1", "-1.8", "-0.5", "0.8", "2.1", "3.4", "4.7", "6."];
const ubNsYTicks  = [15, 12, 9, 6, 3, 0, -3, -6, -9, -12];
const ubNsYLabels = ["15.", "12.", "9.", "6.", "3.", "0.", "-3.", "-6.", "-9.", "-12."];

// extreme values reported in each legend
const lbEwExtremes = ["Min is -8.113e+00", "at -8.615e+00", "Max is 8.865e+00", "at 1.077e+01"];
const lbNsExtremes = ["Min is -7.591e+00", "at -7.120e+00", "Max is 8.041e+00", "at 8.416e+00"];
const ubEwExtremes = ["Min is -1.479e+01", "at -9.760e+00", "Max is 1.399e+01", "at 8.212e+00"];
const ubNsExtremes = ["Min is -1.275e+01", "at -5.856e+00", "Max is 1.215e+01", "at 4.585e+00"];

const cursorReadouts = ["", "( 3.25 , -9.59 )", "", "( -5.93 , 15. )"];

const captions = [
  "Curva de Histéresis, límite inferior (LB). Lima 1974 EW.",
  "Curva de Histéresis, límite inferior (LB). Lima 1974 NS.",
  "Curva de Histéresis, límite superior (UB). Lima 1974 EW.",
  "Curva de Histéresis, límite superior (UB). Lima 1974 NS."
];

// ---------------------------------------------------------------
// Layout of the four plot windows
// ---------------------------------------------------------------
const panels = [
  { id: "lbEw", path: lbEwPath, color: "#1c8a4d",
    xTicks: lbEwXTicks, xLabels: lbEwXLabels, yTicks: lbEwYTicks, yLabels: lbEwYLabels,
    extremes: lbEwExtremes, readout: cursorReadouts[0],
    bg: [105, 20, 909, 486], frame: [142, 52, 646, 424.3],
    xDomain: [-10.064, 11.71], yDomain: [-9.64, 10.0],
    group: [710, 32, 940, 373], white: [736, 53, 899, 347],
    status: [722, 393, 940, 422], ok: [762, 446, 865, 477] },
  { id: "lbNs", path: lbNsPath, color: "#1c8a4d",
    xTicks: lbNsXTicks, xLabels: lbNsXLabels, yTicks: lbNsYTicks, yLabels: lbNsYLabels,
    extremes: lbNsExtremes, readout: cursorReadouts[1],
    bg: [1007, 24, 1817, 485], frame: [1045, 53.3, 1552, 430],
    xDomain: [-10.085, 9.788], yDomain: [-9.66, 10.06],
    group: [1616, 32, 1850, 378], white: [1642, 56, 1806, 352],
    status: [1627, 398, 1850, 427], ok: [1668, 451, 1772, 483] },
  { id: "ubEw", path: ubEwPath, color: "#1f8c1f",
    xTicks: ubEwXTicks, xLabels: ubEwXLabels, yTicks: ubEwYTicks, yLabels: ubEwYLabels,
    extremes: ubEwExtremes, readout: cursorReadouts[2],
    bg: [97, 577, 902, 1038], frame: [142, 610, 644, 983.3],
    xDomain: [-11.086, 10.73], yDomain: [-18.57, 19.25],
    group: [706, 589, 940, 930], white: [733, 612, 894, 904],
    status: [718, 950, 940, 979], ok: [759, 1003, 861, 1034] },
  { id: "ubNs", path: ubNsPath, color: "#1f8c1f",
    xTicks: ubNsXTicks, xLabels: ubNsXLabels, yTicks: ubNsYTicks, yLabels: ubNsYLabels,
    extremes: ubNsExtremes, readout: cursorReadouts[3],
    bg: [1007, 575, 1831, 1047], frame: [1047, 608.3, 1561, 989.3],
    xDomain: [-7.06, 5.856], yDomain: [-14.52, 14.97],
    group: [1625, 585, 1850, 937], white: [1652, 609, 1818, 910],
    status: [1637, 956, 1850, 987], ok: [1678, 1011, 1783, 1043] }
];

const SANS = "'Liberation Sans', Arial, Helvetica, sans-serif";
const SERIF = "'Liberation Serif', 'Times New Roman', serif";

const svg = d3.select("#fig");
const defs = svg.append("defs");

// Break a record into branches between load reversals (sign change of
// the displacement increment), so each branch is smoothed on its own
// and the reversal points stay sharp.
function branches(path) {
  const out = [];
  let cur = [path[0]];
  let dir = 0;
  for (let i = 1; i < path.length; i++) {
    const s = Math.sign(path[i][0] - path[i - 1][0]);
    if (dir !== 0 && s !== 0 && s !== dir) {
      out.push(cur);
      cur = [path[i - 1]];
    }
    if (s !== 0) dir = s;
    cur.push(path[i]);
  }
  out.push(cur);
  return out;
}

function drawPanel(p) {
  const [bx0, by0, bx1, by1] = p.bg;
  const [fl, ft, fr, fb] = p.frame;

  defs.append("clipPath").attr("id", "win-" + p.id)
    .append("rect").attr("x", bx0).attr("y", by0).attr("width", bx1 - bx0).attr("height", by1 - by0);
  defs.append("clipPath").attr("id", "plot-" + p.id)
    .append("rect").attr("x", fl).attr("y", ft).attr("width", fr - fl).attr("height", fb - ft);

  const g = svg.append("g").attr("clip-path", `url(#win-${p.id})`);
  g.append("rect").attr("x", bx0).attr("y", by0).attr("width", bx1 - bx0).attr("height", by1 - by0)
    .attr("fill", "#f0f0f0");

  const x = d3.scaleLinear().domain(p.xDomain).range([fl, fr]);
  const y = d3.scaleLinear().domain(p.yDomain).range([fb, ft]);

  // plotting surface
  g.append("rect").attr("x", fl).attr("y", ft).attr("width", fr - fl).attr("height", fb - ft)
    .attr("fill", "#ffffff");

  // grid
  const xGrid = p.xTicks.filter(v => x(v) > fl + 2 && x(v) < fr - 2);
  const yGrid = p.yTicks.slice(1).filter(v => y(v) > ft + 2 && y(v) < fb - 2);
  g.append("g").selectAll("line").data(xGrid).join("line")
    .attr("x1", d => x(d)).attr("x2", d => x(d)).attr("y1", ft).attr("y2", fb)
    .attr("stroke", "#8c8c8c").attr("stroke-width", 1.7);
  g.append("g").selectAll("line").data(yGrid).join("line")
    .attr("x1", fl).attr("x2", fr).attr("y1", d => y(d)).attr("y2", d => y(d))
    .attr("stroke", "#8c8c8c").attr("stroke-width", 1.7);

  // response curve, one smoothed branch per loading direction
  const line = d3.line().curve(d3.curveCatmullRom.alpha(0.5))
    .x(d => x(d[0])).y(d => y(d[1]));
  g.append("g").attr("clip-path", `url(#plot-${p.id})`)
    .selectAll("path").data(branches(p.path)).join("path")
    .attr("d", line)
    .attr("fill", "none").attr("stroke", p.color).attr("stroke-width", 1.2)
    .attr("stroke-linejoin", "round").attr("stroke-linecap", "round");

  // frame bevel
  g.append("line").attr("x1", fr).attr("x2", fr).attr("y1", ft).attr("y2", fb)
    .attr("stroke", "#dcdcdc").attr("stroke-width", 1);
  g.append("line").attr("x1", fl).attr("x2", fr).attr("y1", fb).attr("y2", fb)
    .attr("stroke", "#e2e2e2").attr("stroke-width", 1);
  g.append("rect").attr("x", fl - 2).attr("y", ft - 2.6).attr("width", fr - fl + 2).attr("height", 3)
    .attr("fill", "#8f8f8f");
  g.append("rect").attr("x", fl - 2).attr("y", ft - 2.6).attr("width", 2).attr("height", fb - ft + 2.6)
    .attr("fill", "#8f8f8f");

  // vertical ruler
  const yStep = p.yTicks[0] - p.yTicks[1];
  const yMinor = [];
  for (let i = 0; i < 80; i++) {
    const v = p.yTicks[0] - i * yStep / 5;
    if (y(v) < fb - 1.5) yMinor.push({ v, major: i % 5 === 0 });
  }
  g.append("g").selectAll("line").data(yMinor).join("line")
    .attr("x1", d => d.major ? fl - 10 : fl - 6).attr("x2", d => d.major ? fl - 1 : fl - 3)
    .attr("y1", d => y(d.v) - 1.2).attr("y2", d => y(d.v) - 1.2)
    .attr("stroke", "#2a2a2a").attr("stroke-width", 1.7);
  g.append("g").selectAll("text").data(p.yTicks).join("text")
    .attr("x", fl - 11).attr("y", d => y(d) + 8.5)
    .attr("text-anchor", "end").attr("dominant-baseline", "central")
    .attr("font-family", SANS).attr("font-size", 15.5).attr("fill", "#1e1e1e")
    .attr("stroke", "#1e1e1e").attr("stroke-width", 0.35)
    .text((d, i) => p.yLabels[i]);

  // horizontal ruler
  const xStep = p.xTicks[1] - p.xTicks[0];
  const xMinor = [];
  for (let i = -15; i < 70; i++) {
    const v = p.xTicks[0] + i * xStep / 5;
    const px = x(v) - 2;
    if (px > fl + 5 && px < fr - 4) xMinor.push({ v, major: ((i % 5) + 5) % 5 === 0 });
  }
  g.append("g").selectAll("line").data(xMinor).join("line")
    .attr("x1", d => x(d.v) - 2).attr("x2", d => x(d.v) - 2)
    .attr("y1", d => d.major ? fb + 10.5 : fb + 12.5).attr("y2", d => d.major ? fb + 23.5 : fb + 19)
    .attr("stroke", "#2a2a2a").attr("stroke-width", 1.7);
  g.append("g").selectAll("text").data(p.xTicks).join("text")
    .attr("x", d => x(d) - 6.5).attr("y", fb + 34)
    .attr("text-anchor", "end").attr("dominant-baseline", "central")
    .attr("font-family", SANS).attr("font-size", 15.5).attr("fill", "#1e1e1e")
    .attr("stroke", "#1e1e1e").attr("stroke-width", 0.35)
    .text((d, i) => p.xLabels[i]);

  // axis titles
  g.append("text").attr("x", (fl + fr) / 2 + 10).attr("y", ft - 17)
    .attr("text-anchor", "middle").attr("dominant-baseline", "central")
    .attr("font-family", SANS).attr("font-weight", "bold").attr("font-size", 16.5).attr("fill", "#222")
    .text("DESPLAZAMIENTO (cm)");
  g.append("text")
    .attr("transform", `translate(${fr + 29},${(ft + fb) / 2}) rotate(90)`)
    .attr("text-anchor", "middle").attr("dominant-baseline", "central")
    .attr("font-family", SANS).attr("font-weight", "bold").attr("font-size", 16.5).attr("fill", "#222")
    .text("FUERZA (Tnf)");

  // legend group box
  const [gx0, gy0, gx1, gy1] = p.group;
  const lgLabel = g.append("text").attr("x", gx0 + 13).attr("y", gy0)
    .attr("dominant-baseline", "central")
    .attr("font-family", SANS).attr("font-size", 16).attr("fill", "#22229a")
    .text("Legend");
  const lgW = lgLabel.node().getComputedTextLength();
  g.append("path").attr("d",
      `M${gx0 + 10},${gy0} H${gx0} V${gy1} H${gx1} M${gx0 + 16 + lgW},${gy0} H${gx1}`)
    .attr("fill", "none").attr("stroke", "#d0d0d0").attr("stroke-width", 1.2);

  const [wx0, wy0, wx1, wy1] = p.white;
  g.append("rect").attr("x", wx0).attr("y", wy0).attr("width", wx1 - wx0).attr("height", wy1 - wy0)
    .attr("fill", "#ffffff").attr("stroke", "#dadada").attr("stroke-width", 1);
  g.append("path").attr("d", `M${wx0 + 1},${wy1} V${wy0 + 1} H${wx1}`)
    .attr("fill", "none").attr("stroke", "#777").attr("stroke-width", 2.2);

  const rows = [
    { t: "Vertical Axis", c: "#1ee61e", dy: 12 },
    { t: "Link 125 at End-I", c: "#ff8a3a", dy: 32.5 },
    { t: "Shear 3-3", c: "#ff8a3a", dy: 52.5 },
    { t: p.extremes[0], c: "#ff8a3a", dy: 97 },
    { t: p.extremes[1], c: "#ff8a3a", dy: 117 },
    { t: p.extremes[2], c: "#ff8a3a", dy: 137 },
    { t: p.extremes[3], c: "#ff8a3a", dy: 157 },
    { t: "Horizontal Axis", c: "#1ee61e", dy: 182 },
    { t: "D X-X", c: "#f2f200", dy: 202 }
  ];
  g.append("g").selectAll("text").data(rows).join("text")
    .attr("x", wx0 + 13.5).attr("y", d => wy0 + d.dy)
    .attr("dominant-baseline", "central")
    .attr("font-family", SANS).attr("font-size", 16).attr("fill", d => d.c)
    .text(d => d.t);

  // cursor readout field
  const [sx0, sy0, sx1, sy1] = p.status;
  g.append("path").attr("d", `M${sx0},${sy1} V${sy0} H${sx1}`)
    .attr("fill", "none").attr("stroke", "#a0a0a0").attr("stroke-width", 1.4);
  g.append("path").attr("d", `M${sx0},${sy1} H${sx1}`)
    .attr("fill", "none").attr("stroke", "#ffffff").attr("stroke-width", 1.2);
  if (p.readout) {
    const visRight = Math.min(sx1, bx1);
    g.append("text").attr("x", (sx0 + visRight) / 2).attr("y", (sy0 + sy1) / 2)
      .attr("text-anchor", "middle").attr("dominant-baseline", "central")
      .attr("font-family", SANS).attr("font-size", 16.5).attr("fill", "#1a1a1a")
      .text(p.readout);
  }

  // OK button
  const [ox0, oy0, ox1, oy1] = p.ok;
  g.append("rect").attr("x", ox0 + 1).attr("y", oy0 + 1).attr("width", ox1 - ox0 - 2).attr("height", oy1 - oy0 - 2)
    .attr("fill", "#e1e1e1").attr("stroke", "#0078d7").attr("stroke-width", 2);
  g.append("text").attr("x", (ox0 + ox1) / 2).attr("y", (oy0 + oy1) / 2 + 1)
    .attr("text-anchor", "middle").attr("dominant-baseline", "central")
    .attr("font-family", SANS).attr("font-size", 16.5).attr("fill", "#111")
    .text("OK");
}

panels.forEach(drawPanel);

// ---------------------------------------------------------------
// Table rules and captions
// ---------------------------------------------------------------
const rules = svg.append("g").attr("stroke", "#000");
rules.append("line").attr("x1", 9).attr("x2", 1866).attr("y1", 6).attr("y2", 6).attr("stroke-width", 1.5);
rules.append("line").attr("x1", 9.5).attr("x2", 9.5).attr("y1", 6).attr("y2", 1110).attr("stroke-width", 2);
rules.append("line").attr("x1", 940).attr("x2", 940).attr("y1", 6).attr("y2", 1110).attr("stroke-width", 2);
rules.append("line").attr("x1", 1864.5).attr("x2", 1864.5).attr("y1", 6).attr("y2", 1110).attr("stroke-width", 2);
rules.append("line").attr("x1", 9).attr("x2", 1866).attr("y1", 504).attr("y2", 504).attr("stroke-width", 2.5);
rules.append("line").attr("x1", 9).attr("x2", 1866).attr("y1", 560).attr("y2", 560).attr("stroke-width", 3.5);
rules.append("line").attr("x1", 9).attr("x2", 1866).attr("y1", 1057.5).attr("y2", 1057.5).attr("stroke-width", 4);

const capPos = [[475, 524], [1402, 524], [475, 1079], [1402, 1079]];
svg.append("g").selectAll("text").data(captions).join("text")
  .attr("x", (d, i) => capPos[i][0]).attr("y", (d, i) => capPos[i][1])
  .attr("text-anchor", "middle").attr("dominant-baseline", "central")
  .attr("font-family", SERIF).attr("font-size", 32).attr("fill", "#000")
  .text(d => d);
</script>
</body>
</html>
